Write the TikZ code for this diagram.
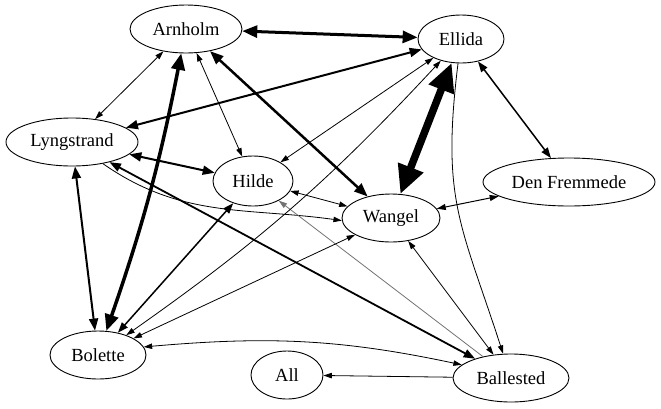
\documentclass[tikz,border=0pt]{standalone}
\usepackage{fontspec}
\setmainfont{Liberation Serif}
\usetikzlibrary{arrows.meta,shapes.geometric}
\tikzset{
  person/.style={ellipse, draw, line width=0.9pt, inner sep=0pt, minimum height=48pt,
    font=\fontsize{18.5}{22}\selectfont},
  rel/.style={line width=#1, {Triangle[length=6pt 3, width=3pt 3]}-{Triangle[length=6pt 3, width=3pt 3]}},
  one/.style={line width=#1, -{Triangle[length=6pt 3, width=3pt 3]}},
  faint/.style={draw=black!55},
}
\begin{document}
\begin{tikzpicture}[x=1pt,y=1pt]
\useasboundingbox (0,0) rectangle (661,-408);
\node[person, minimum width=112pt] (arn) at (186,-29) {Arnholm};
\node[person, minimum width=86pt]  (ell) at (461,-39) {Ellida};
\node[person, minimum width=132pt] (lyn) at (72,-142) {Lyngstrand};
\node[person, minimum width=80pt, minimum height=50pt] (hil) at (253,-181) {Hilde};
\node[person, minimum width=98pt]  (wan) at (391,-218) {Wangel};
\node[person, minimum width=172pt] (den) at (569,-182) {Den Fremmede};
\node[person, minimum width=96pt]  (bol) at (98,-355) {Bolette};
\node[person, minimum width=72pt]  (all) at (287,-375) {All};
\node[person, minimum width=116pt] (bal) at (511,-378) {Ballested};

\draw[rel=3pt] (arn) -- (ell);
\draw[rel=2pt] (ell) -- (lyn);
\draw[rel=0.8pt] (arn) -- (lyn);
\draw[rel=0.8pt] (arn) -- (hil);
\draw[rel=2.5pt] (arn) -- (wan);
\draw[rel=3.5pt] (arn) to[bend left=4] (bol);
\draw[rel=2pt] (lyn) -- (bol);
\draw[rel=2pt] (lyn) -- (hil);
\draw[rel=1.8pt] (lyn) -- (bal);
\draw[one=0.8pt] (lyn.-35) to[out=-35, in=172] (wan.183);
\draw[rel=0.8pt] (hil) -- (wan);
\draw[one=0.8pt, faint] (bal) -- (hil);
\draw[rel=0.8pt] (ell) -- (hil);
\draw[rel=0.8pt] (ell) to[bend left=6] (bol);
\draw[rel=0.8pt] (wan) -- (bol);
\draw[rel=1.5pt] (hil) -- (bol);
\draw[one=0.8pt] (ell) to[out=-97, in=108, looseness=1.2] (bal);
\draw[rel=7.5pt] (ell) -- (wan);
\draw[rel=1.5pt] (ell) -- (den);
\draw[rel=1pt] (wan) -- (den);
\draw[rel=0.8pt] (wan) -- (bal);
\draw[rel=0.8pt] (bol.10) to[out=5, in=168] (bal.165);
\draw[one=0.8pt] (bal) -- (all);
\end{tikzpicture}
\end{document}
